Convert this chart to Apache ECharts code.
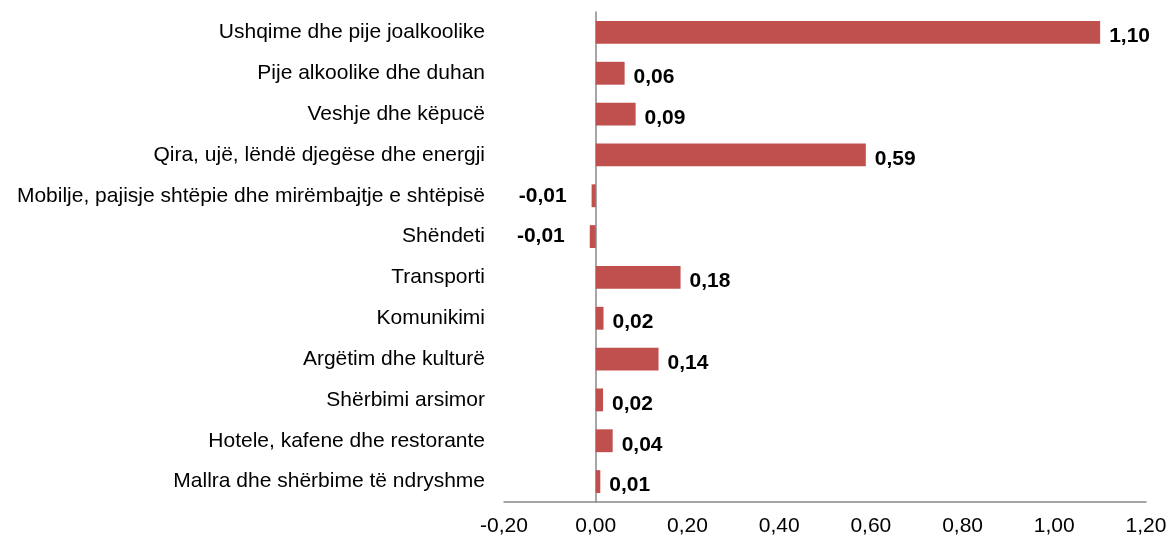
<!DOCTYPE html>
<html lang="sq">
<head>
    <meta charset="UTF-8">
    <title>Kontributi sipas grupeve</title>
    <script src="https://cdn.jsdelivr.net/npm/echarts@6.0.0/dist/echarts.min.js"></script>
    <style>
        * { margin: 0; padding: 0; }
        body { background: #ffffff; }
        #chart-container { width: 1170px; height: 538px; }
    </style>
</head>
<body>
    <div id="chart-container"></div>
    <script>
        // categories, top to bottom
        var categories = [
            'Ushqime dhe pije joalkoolike',
            'Pije alkoolike dhe duhan',
            'Veshje dhe këpucë',
            'Qira, ujë, lëndë djegëse dhe energji',
            'Mobilje, pajisje shtëpie dhe mirëmbajtje e shtëpisë',
            'Shëndeti',
            'Transporti',
            'Komunikimi',
            'Argëtim dhe kulturë',
            'Shërbimi arsimor',
            'Hotele, kafene dhe restorante',
            'Mallra dhe shërbime të ndryshme'
        ];
        var values = [1.10, 0.063, 0.087, 0.589, -0.009, -0.013, 0.185, 0.017, 0.137, 0.016, 0.037, 0.010];

        var axisMin = -0.2;
        var axisMax = 1.2;
        var axisStep = 0.2;

        var font = 'Arial, "Liberation Sans", sans-serif';

        function fmt(v) {
            return v.toFixed(2).replace('.', ',');
        }

        var barData = values.map(function (v) {
            if (v < 0) {
                return {
                    value: v,
                    label: { position: 'left', distance: 25, offset: [0, 0] }
                };
            }
            return v;
        });

        var dom = document.getElementById('chart-container');
        var myChart = echarts.init(dom, null, { renderer: 'canvas' });

        var option = {
            animation: false,
            grid: {
                left: 504, right: 24, top: 12, bottom: 36,
                containLabel: false,
                outerBoundsMode: 'none'
            },
            xAxis: {
                type: 'value',
                min: axisMin,
                max: axisMax,
                interval: axisStep,
                splitLine: { show: false },
                axisTick: { show: false },
                axisLine: { show: true, lineStyle: { color: '#888888', width: 1.5 } },
                axisLabel: {
                    margin: 14,
                    color: '#000000',
                    fontSize: 21,
                    fontFamily: font,
                    formatter: function (v) { return fmt(v); }
                }
            },
            yAxis: {
                type: 'category',
                data: categories,
                inverse: true,
                axisTick: { show: false },
                axisLine: { show: true, onZero: true, lineStyle: { color: '#888888', width: 1.5 } },
                axisLabel: {
                    margin: 19,
                    color: '#000000',
                    fontSize: 21,
                    fontFamily: font
                }
            },
            series: [{
                type: 'bar',
                data: barData,
                barWidth: '56%',
                itemStyle: { color: '#C0504D' },
                label: {
                    show: true,
                    position: 'right',
                    distance: 9,
                    offset: [0, 4],
                    color: '#000000',
                    fontSize: 21,
                    fontWeight: 'bold',
                    fontFamily: font,
                    formatter: function (p) { return fmt(p.value); }
                }
            }]
        };

        myChart.setOption(option);
        window.addEventListener('resize', myChart.resize);
    </script>
</body>
</html>
